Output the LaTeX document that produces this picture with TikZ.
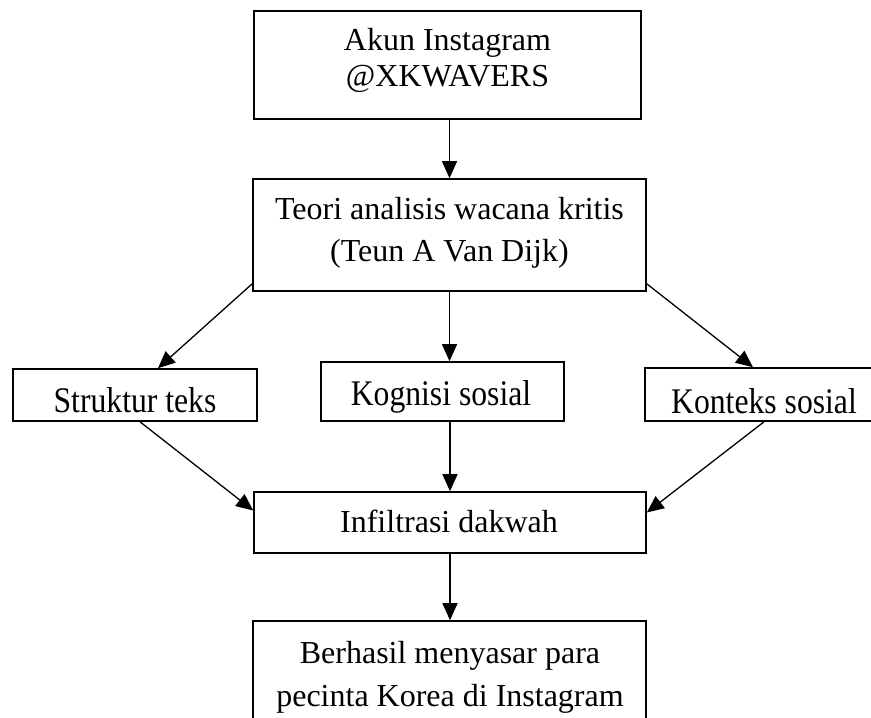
\documentclass[tikz,border=0pt]{standalone}
\usepackage{fontspec}
\usepackage{graphicx}
\setmainfont{Liberation Serif}
\usetikzlibrary{arrows.meta}
\begin{document}
\begin{tikzpicture}[x=1pt,y=-1pt,
  box/.style={draw=black, line width=1.6pt, inner sep=0pt, rectangle},
  txt/.style={inner sep=0pt, font=\fontsize{32}{38}\selectfont, align=center},
  midtxt/.style={inner sep=0pt, font=\fontsize{36}{40}\selectfont},
  arr/.style={line width=1.3pt, -{Triangle[length=17pt,width=15pt]}}]
\useasboundingbox (0,0) rectangle (871,718);
\clip (0,0) rectangle (871,718);
% boxes
\node[box, minimum width=387pt, minimum height=108pt] (top) at (447.5,65) {};
\node[box, minimum width=393pt, minimum height=112pt] (teori) at (449.5,235) {};
\node[box, minimum width=244pt, minimum height=52pt] (struktur) at (135,395) {};
\node[box, minimum width=243pt, minimum height=59pt] (kognisi) at (442.5,391.5) {};
\node[box, minimum width=238pt, minimum height=53pt] (konteks) at (764,394.5) {};
\node[box, minimum width=392pt, minimum height=61pt] (infil) at (450,522.5) {};
\node[box, minimum width=393pt, minimum height=110pt] (bottom) at (449.5,676) {};
% texts
\node[txt, font=\fontsize{32}{36}\selectfont, anchor=north] (toptxt) at (447.5,28.5) {Akun Instagram\\@XKWAVERS};
\node[txt, font=\fontsize{32}{42}\selectfont, anchor=north] (teoritxt) at (449.5,197) {Teori analisis wacana kritis\\(Teun A Van Dijk)};
\node[midtxt, anchor=base] (strukturtxt) at (135,412) {\scalebox{0.88}[1]{Struktur teks}};
\node[midtxt, anchor=base] (kognisitxt) at (441,405) {\scalebox{0.88}[1]{Kognisi sosial}};
\node[midtxt, anchor=base] (kontekstxt) at (764,413) {\scalebox{0.88}[1]{Konteks sosial}};
\node[txt, anchor=base] (infiltxt) at (449,532) {Infiltrasi dakwah};
\node[txt, font=\fontsize{32}{43}\selectfont, anchor=north] (bottomtxt) at (450,641) {Berhasil menyasar para\\pecinta Korea di Instagram};
% connectors
\draw[arr] (teori.north |- top.south) -- (teori.north);
\draw[arr] ([yshift=8pt]teori.south west) -- ([xshift=23pt]struktur.north);
\draw[arr] ([yshift=8pt]teori.south east) -- ([xshift=-11pt]konteks.north);
\draw[arr] (teori.south) -- (teori.south |- kognisi.north);
\draw[arr] ([xshift=5pt]struktur.south) -- ([yshift=12pt]infil.west);
\draw[arr] (konteks.south) -- ([yshift=10pt]infil.east);
\draw[arr] (infil.north |- kognisi.south) -- (infil.north);
\draw[arr] (infil.south) -- (infil.south |- bottom.north);
\end{tikzpicture}
\end{document}
